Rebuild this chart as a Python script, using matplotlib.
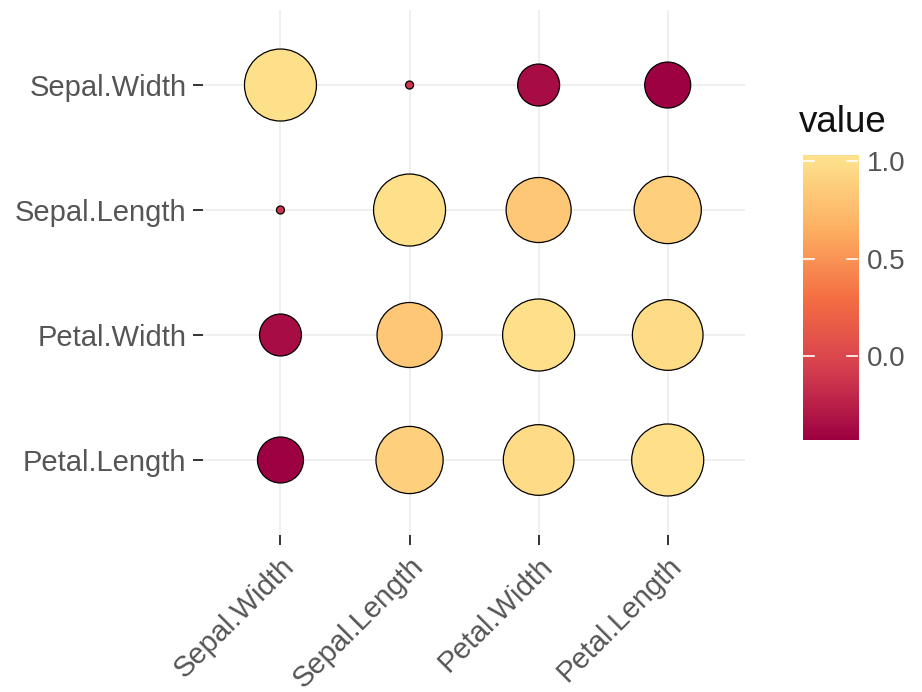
import numpy as np
import matplotlib
matplotlib.use("Agg")
import matplotlib.pyplot as plt
from matplotlib.colors import LinearSegmentedColormap, Normalize

plt.rcParams['font.family'] = ['Liberation Sans', 'DejaVu Sans']

# Iris correlation matrix in long form
x_vars = ["Sepal.Width", "Sepal.Length", "Petal.Width", "Petal.Length"]
y_vars = ["Petal.Length", "Petal.Width", "Sepal.Length", "Sepal.Width"]
corr = {
    ("Sepal.Width", "Sepal.Width"): 1.0,
    ("Sepal.Width", "Sepal.Length"): -0.1176,
    ("Sepal.Width", "Petal.Width"): -0.3661,
    ("Sepal.Width", "Petal.Length"): -0.4284,
    ("Sepal.Length", "Sepal.Length"): 1.0,
    ("Sepal.Length", "Petal.Width"): 0.8179,
    ("Sepal.Length", "Petal.Length"): 0.8718,
    ("Petal.Width", "Petal.Width"): 1.0,
    ("Petal.Width", "Petal.Length"): 0.9629,
    ("Petal.Length", "Petal.Length"): 1.0,
}

def r(a, b):
    return corr.get((a, b), corr.get((b, a)))

xs, ys, vals = [], [], []
for j, yv in enumerate(y_vars):
    for i, xv in enumerate(x_vars):
        xs.append(i + 1)
        ys.append(j + 1)
        vals.append(r(xv, yv))
xs = np.array(xs); ys = np.array(ys); vals = np.array(vals)

palette = ["#9E0142", "#D53E4F", "#F46D43", "#FDAE61", "#FEE08B"]
cmap = LinearSegmentedColormap.from_list("spectral_half", palette)
norm = Normalize(vmin=vals.min(), vmax=1.0)

# size by |r|, area-style scaling between min and max diameter
absv = np.abs(vals)
rs = (absv - absv.min()) / (absv.max() - absv.min())
diam_px = 8 + 64 * np.sqrt(rs)
dpi = 100
sizes = (diam_px * 72 / dpi) ** 2

label_color = "#555555"
fs = 21

fig = plt.figure(figsize=(9.22, 6.92), dpi=dpi)
ax = fig.add_axes([0.2202, 0.2269, 0.588, 0.7586])
ax.set_axisbelow(True)
ax.scatter(xs, ys, s=sizes, c=vals, cmap=cmap, norm=norm,
           edgecolors="black", linewidths=0.9, zorder=3)
ax.set_xlim(0.4, 4.6)
ax.set_ylim(0.4, 4.6)
ax.set_xticks(range(1, 5))
ax.set_yticks(range(1, 5))
ax.set_xticklabels(x_vars, rotation=45, ha="right", va="top",
                   rotation_mode="anchor", fontsize=fs, color=label_color)
ax.set_yticklabels(y_vars, fontsize=fs, color=label_color)
ax.grid(True, color="#EBEBEB", linewidth=1.1)
for s in ax.spines.values():
    s.set_visible(False)
ax.tick_params(axis="both", length=7, width=1.4, color="#333333", pad=5)

cax = fig.add_axes([0.871, 0.364, 0.0597, 0.412])
top = norm.vmax + 0.03
grad = np.linspace(norm.vmin, top, 300).reshape(-1, 1)
cax.imshow(grad, aspect="auto", origin="lower", cmap=cmap, norm=norm,
           extent=[0, 1, norm.vmin, top])
cax.set_xlim(0, 1)
cax.set_ylim(norm.vmin, top)
cax.set_xticks([])
cax.yaxis.tick_right()
cbar_ticks = [0.0, 0.5, 1.0]
cax.set_yticks(cbar_ticks)
cax.set_yticklabels(["0.0", "0.5", "1.0"], fontsize=20, color=label_color)
cax.tick_params(axis="y", length=0, pad=6)
for t in cbar_ticks:
    cax.plot([0, 0.2], [t, t], color="white", lw=1.2)
    cax.plot([0.8, 1], [t, t], color="white", lw=1.2)
for s in cax.spines.values():
    s.set_visible(False)
fig.text(0.866, 0.823, "value", fontsize=26.5, color="#111111", ha="left", va="center")

fig.savefig("out.png", dpi=dpi, facecolor="white")
